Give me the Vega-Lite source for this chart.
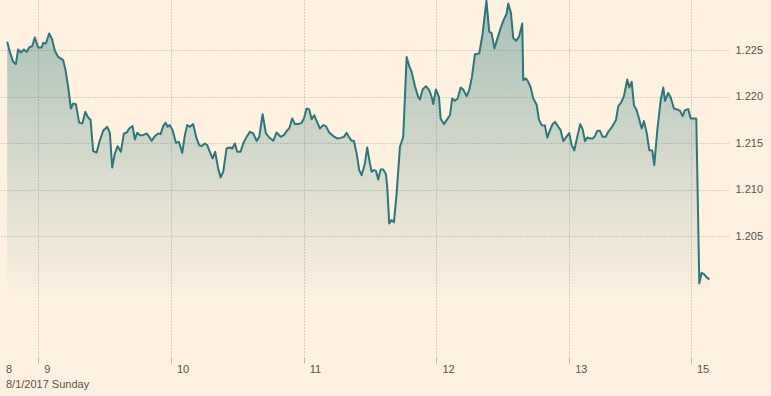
{
  "$schema": "https://vega.github.io/schema/vega-lite/v6.json",
  "width": 728,
  "height": 357,
  "autosize": {"type": "none"},
  "padding": {"left": 0, "top": 0, "right": 43, "bottom": 39},
  "background": "#fff1e0",
  "config": {"view": {"stroke": null}},
  "data": {"values": [
    {"t": -5.60, "rate": 1.22590}, {"t": -5.12, "rate": 1.22482}, {"t": -4.52, "rate": 1.22375}, {"t": -4.03, "rate": 1.22350},
    {"t": -3.62, "rate": 1.22508}, {"t": -3.13, "rate": 1.22476}, {"t": -2.59, "rate": 1.22508}, {"t": -2.10, "rate": 1.22482},
    {"t": -1.63, "rate": 1.22529}, {"t": -1.09, "rate": 1.22543}, {"t": -0.60, "rate": 1.22637}, {"t": 0.00, "rate": 1.22529},
    {"t": 0.61, "rate": 1.22529}, {"t": 0.90, "rate": 1.22579}, {"t": 1.39, "rate": 1.22572}, {"t": 1.99, "rate": 1.22680},
    {"t": 2.53, "rate": 1.22615}, {"t": 3.02, "rate": 1.22493}, {"t": 3.62, "rate": 1.22428}, {"t": 4.52, "rate": 1.22393},
    {"t": 4.95, "rate": 1.22285}, {"t": 5.42, "rate": 1.22106}, {"t": 5.91, "rate": 1.21873}, {"t": 6.33, "rate": 1.21927},
    {"t": 6.82, "rate": 1.21920}, {"t": 7.41, "rate": 1.21721}, {"t": 7.99, "rate": 1.21712}, {"t": 8.53, "rate": 1.21837},
    {"t": 9.04, "rate": 1.21775}, {"t": 9.47, "rate": 1.21753}, {"t": 9.94, "rate": 1.21414}, {"t": 10.56, "rate": 1.21400},
    {"t": 11.16, "rate": 1.21533}, {"t": 11.75, "rate": 1.21633}, {"t": 12.48, "rate": 1.21676}, {"t": 12.96, "rate": 1.21611},
    {"t": 13.38, "rate": 1.21239}, {"t": 13.87, "rate": 1.21390}, {"t": 14.36, "rate": 1.21468}, {"t": 14.95, "rate": 1.21407},
    {"t": 15.49, "rate": 1.21605}, {"t": 15.98, "rate": 1.21611}, {"t": 16.45, "rate": 1.21658}, {"t": 17.07, "rate": 1.21683},
    {"t": 17.48, "rate": 1.21540}, {"t": 17.90, "rate": 1.21611}, {"t": 18.39, "rate": 1.21586}, {"t": 18.98, "rate": 1.21586},
    {"t": 19.60, "rate": 1.21605}, {"t": 20.07, "rate": 1.21568}, {"t": 20.50, "rate": 1.21525}, {"t": 21.10, "rate": 1.21576},
    {"t": 21.70, "rate": 1.21605}, {"t": 22.13, "rate": 1.21597}, {"t": 22.60, "rate": 1.21683}, {"t": 23.03, "rate": 1.21719},
    {"t": 23.40, "rate": 1.21676}, {"t": 23.81, "rate": 1.21694}, {"t": 24.30, "rate": 1.21640}, {"t": 24.90, "rate": 1.21504},
    {"t": 25.44, "rate": 1.21514}, {"t": 26.04, "rate": 1.21396}, {"t": 26.52, "rate": 1.21586}, {"t": 26.94, "rate": 1.21694},
    {"t": 27.43, "rate": 1.21676}, {"t": 28.02, "rate": 1.21705}, {"t": 28.64, "rate": 1.21551}, {"t": 29.11, "rate": 1.21479},
    {"t": 29.54, "rate": 1.21468}, {"t": 30.14, "rate": 1.21497}, {"t": 30.56, "rate": 1.21479}, {"t": 31.04, "rate": 1.21407},
    {"t": 31.53, "rate": 1.21336}, {"t": 32.00, "rate": 1.21407}, {"t": 32.54, "rate": 1.21228}, {"t": 32.98, "rate": 1.21132},
    {"t": 33.45, "rate": 1.21192}, {"t": 34.06, "rate": 1.21443}, {"t": 34.66, "rate": 1.21454}, {"t": 35.08, "rate": 1.21443},
    {"t": 35.56, "rate": 1.21497}, {"t": 35.98, "rate": 1.21407}, {"t": 36.59, "rate": 1.21407}, {"t": 37.06, "rate": 1.21497},
    {"t": 37.68, "rate": 1.21568}, {"t": 38.28, "rate": 1.21622}, {"t": 38.87, "rate": 1.21605}, {"t": 39.49, "rate": 1.21525},
    {"t": 39.96, "rate": 1.21568}, {"t": 40.57, "rate": 1.21812}, {"t": 41.17, "rate": 1.21605}, {"t": 41.76, "rate": 1.21562},
    {"t": 42.49, "rate": 1.21525}, {"t": 43.10, "rate": 1.21615}, {"t": 43.83, "rate": 1.21568}, {"t": 44.42, "rate": 1.21586},
    {"t": 45.02, "rate": 1.21640}, {"t": 45.38, "rate": 1.21658}, {"t": 45.92, "rate": 1.21766}, {"t": 46.41, "rate": 1.21705},
    {"t": 47.01, "rate": 1.21705}, {"t": 47.62, "rate": 1.21719}, {"t": 48.04, "rate": 1.21766}, {"t": 48.53, "rate": 1.21873},
    {"t": 49.00, "rate": 1.21863}, {"t": 49.43, "rate": 1.21758}, {"t": 49.90, "rate": 1.21801}, {"t": 50.33, "rate": 1.21740},
    {"t": 50.93, "rate": 1.21658}, {"t": 51.53, "rate": 1.21694}, {"t": 52.02, "rate": 1.21683}, {"t": 52.61, "rate": 1.21615},
    {"t": 53.34, "rate": 1.21576}, {"t": 54.06, "rate": 1.21551}, {"t": 54.67, "rate": 1.21557}, {"t": 55.27, "rate": 1.21568},
    {"t": 55.76, "rate": 1.21611}, {"t": 56.23, "rate": 1.21562}, {"t": 56.66, "rate": 1.21525}, {"t": 57.08, "rate": 1.21525},
    {"t": 57.57, "rate": 1.21390}, {"t": 58.04, "rate": 1.21210}, {"t": 58.47, "rate": 1.21156}, {"t": 59.07, "rate": 1.21282},
    {"t": 59.48, "rate": 1.21454}, {"t": 59.97, "rate": 1.21282}, {"t": 60.28, "rate": 1.21192}, {"t": 60.69, "rate": 1.21210},
    {"t": 61.06, "rate": 1.21203}, {"t": 61.47, "rate": 1.21110}, {"t": 61.91, "rate": 1.21218}, {"t": 62.38, "rate": 1.21218},
    {"t": 62.86, "rate": 1.21167}, {"t": 63.10, "rate": 1.21031}, {"t": 63.46, "rate": 1.20637}, {"t": 63.89, "rate": 1.20672},
    {"t": 64.31, "rate": 1.20648}, {"t": 64.80, "rate": 1.20960}, {"t": 65.40, "rate": 1.21461}, {"t": 65.99, "rate": 1.21568},
    {"t": 66.61, "rate": 1.22428}, {"t": 67.08, "rate": 1.22328}, {"t": 67.51, "rate": 1.22267}, {"t": 68.11, "rate": 1.22113},
    {"t": 68.70, "rate": 1.21998}, {"t": 69.01, "rate": 1.21970}, {"t": 69.50, "rate": 1.22078}, {"t": 70.10, "rate": 1.22113},
    {"t": 70.69, "rate": 1.22070}, {"t": 71.13, "rate": 1.21998}, {"t": 71.42, "rate": 1.21920}, {"t": 71.90, "rate": 1.22078},
    {"t": 72.45, "rate": 1.21998}, {"t": 72.75, "rate": 1.21766}, {"t": 73.35, "rate": 1.21705}, {"t": 73.84, "rate": 1.21748},
    {"t": 74.44, "rate": 1.21801}, {"t": 74.85, "rate": 1.21981}, {"t": 75.34, "rate": 1.21955}, {"t": 75.83, "rate": 1.21981},
    {"t": 76.37, "rate": 1.22099}, {"t": 76.84, "rate": 1.22078}, {"t": 77.45, "rate": 1.22006}, {"t": 77.92, "rate": 1.22070},
    {"t": 78.41, "rate": 1.22213}, {"t": 78.96, "rate": 1.22457}, {"t": 79.73, "rate": 1.22465}, {"t": 80.35, "rate": 1.22680},
    {"t": 81.03, "rate": 1.23033}, {"t": 81.54, "rate": 1.22699}, {"t": 81.97, "rate": 1.22683}, {"t": 82.48, "rate": 1.22519},
    {"t": 83.06, "rate": 1.22635}, {"t": 83.66, "rate": 1.22748}, {"t": 84.20, "rate": 1.22834}, {"t": 84.65, "rate": 1.22887},
    {"t": 84.98, "rate": 1.23002}, {"t": 85.46, "rate": 1.22901}, {"t": 85.88, "rate": 1.22633}, {"t": 86.37, "rate": 1.22600},
    {"t": 86.91, "rate": 1.22643}, {"t": 87.51, "rate": 1.22787}, {"t": 87.69, "rate": 1.22178}, {"t": 88.18, "rate": 1.22196},
    {"t": 88.59, "rate": 1.22160}, {"t": 89.03, "rate": 1.22099}, {"t": 89.50, "rate": 1.21981}, {"t": 90.11, "rate": 1.21914},
    {"t": 90.53, "rate": 1.21753}, {"t": 91.01, "rate": 1.21694}, {"t": 91.61, "rate": 1.21689}, {"t": 92.03, "rate": 1.21560},
    {"t": 92.52, "rate": 1.21640}, {"t": 93.00, "rate": 1.21705}, {"t": 93.42, "rate": 1.21729}, {"t": 94.02, "rate": 1.21676},
    {"t": 94.45, "rate": 1.21640}, {"t": 94.92, "rate": 1.21522}, {"t": 95.41, "rate": 1.21562}, {"t": 96.00, "rate": 1.21608},
    {"t": 96.44, "rate": 1.21479}, {"t": 96.91, "rate": 1.21422}, {"t": 97.45, "rate": 1.21568}, {"t": 97.99, "rate": 1.21705},
    {"t": 98.43, "rate": 1.21648}, {"t": 98.84, "rate": 1.21522}, {"t": 99.26, "rate": 1.21562}, {"t": 99.75, "rate": 1.21551},
    {"t": 100.24, "rate": 1.21551}, {"t": 100.65, "rate": 1.21576}, {"t": 101.07, "rate": 1.21633}, {"t": 101.56, "rate": 1.21633},
    {"t": 102.04, "rate": 1.21568}, {"t": 102.59, "rate": 1.21568}, {"t": 103.06, "rate": 1.21622}, {"t": 103.67, "rate": 1.21669},
    {"t": 104.45, "rate": 1.21748}, {"t": 104.86, "rate": 1.21898}, {"t": 105.35, "rate": 1.21934}, {"t": 105.89, "rate": 1.22006},
    {"t": 106.49, "rate": 1.22185}, {"t": 106.85, "rate": 1.22099}, {"t": 107.29, "rate": 1.22160}, {"t": 107.70, "rate": 1.21909},
    {"t": 108.19, "rate": 1.21855}, {"t": 108.61, "rate": 1.21766}, {"t": 109.09, "rate": 1.21658}, {"t": 109.51, "rate": 1.21737},
    {"t": 110.00, "rate": 1.21613}, {"t": 110.47, "rate": 1.21425}, {"t": 111.01, "rate": 1.21420}, {"t": 111.37, "rate": 1.21264},
    {"t": 111.92, "rate": 1.21640}, {"t": 112.53, "rate": 1.21963}, {"t": 113.00, "rate": 1.22099}, {"t": 113.31, "rate": 1.21955},
    {"t": 113.90, "rate": 1.22041}, {"t": 114.34, "rate": 1.21992}, {"t": 114.93, "rate": 1.21873}, {"t": 115.53, "rate": 1.21863},
    {"t": 116.02, "rate": 1.21848}, {"t": 116.51, "rate": 1.21791}, {"t": 116.92, "rate": 1.21855}, {"t": 117.52, "rate": 1.21866},
    {"t": 117.95, "rate": 1.21766}, {"t": 118.97, "rate": 1.21766}, {"t": 119.51, "rate": 1.19992}, {"t": 119.94, "rate": 1.20106},
    {"t": 120.36, "rate": 1.20092}, {"t": 120.85, "rate": 1.20056}, {"t": 121.35, "rate": 1.20035}
  ]},
  "encoding": {
    "x": {
      "field": "t", "type": "quantitative",
      "scale": {"domain": [-6.9, 124.7], "nice": false, "zero": false},
      "axis": {
        "orient": "bottom",
        "values": [-6.9, 0, 24, 48, 72, 96, 118],
        "labelExpr": "datum.value < -1 ? '8' : datum.value < 1 ? '9' : datum.value < 25 ? '10' : datum.value < 49 ? '11' : datum.value < 73 ? '12' : datum.value < 97 ? '13' : '15'",
        "domain": false,
        "grid": true,
        "gridColor": "#b3aca2",
        "gridDash": [1, 2],
        "gridWidth": 1,
        "gridOpacity": {"condition": {"test": "datum.value < -1", "value": 0}, "value": 1},
        "ticks": true,
        "tickColor": "#bdb6ab",
        "tickSize": 6,
        "tickWidth": 1,
        "tickOpacity": {"condition": {"test": "datum.value < -1", "value": 0}, "value": 1},
        "labelAlign": "left",
        "labelBaseline": "alphabetic",
        "labelOffset": 5.5,
        "labelPadding": 9.3,
        "labelFlush": false,
        "labelOverlap": false,
        "labelFont": "Liberation Sans",
        "labelFontSize": 11,
        "labelColor": "#55534f",
        "title": "8/1/2017 Sunday",
        "titleFont": "Liberation Sans",
        "titleFontSize": 11,
        "titleFontWeight": "normal",
        "titleColor": "#55534f",
        "titleAnchor": "start",
        "titleAlign": "left",
        "titleBaseline": "alphabetic",
        "titleX": 5.5,
        "titleY": 30
      }
    },
    "y": {
      "field": "rate", "type": "quantitative",
      "scale": {"domain": [1.192, 1.2304], "nice": false, "zero": false},
      "axis": {
        "orient": "right",
        "values": [1.205, 1.21, 1.215, 1.22, 1.225],
        "format": ".3f",
        "domain": false,
        "ticks": false,
        "tickSize": 0,
        "grid": true,
        "gridColor": "#b3aca2",
        "gridDash": [1, 2],
        "gridWidth": 1,
        "labelPadding": 7,
        "labelAlign": "left",
        "labelBaseline": "middle",
        "labelFont": "Liberation Sans",
        "labelFontSize": 11,
        "labelColor": "#55534f",
        "title": null
      }
    }
  },
  "layer": [
    {
      "mark": {
        "type": "area",
        "color": {
          "gradient": "linear",
          "x1": 0, "y1": 0, "x2": 0, "y2": 1,
          "stops": [
            {"offset": 0, "color": "rgba(42,122,122,0.42)"},
            {"offset": 0.85, "color": "rgba(42,122,122,0)"},
            {"offset": 1, "color": "rgba(42,122,122,0)"}
          ]
        }
      },
      "encoding": {"y2": {"datum": 1.192}}
    },
    {
      "mark": {"type": "line", "color": "#2a787c", "strokeWidth": 2, "strokeJoin": "round"}
    }
  ]
}
